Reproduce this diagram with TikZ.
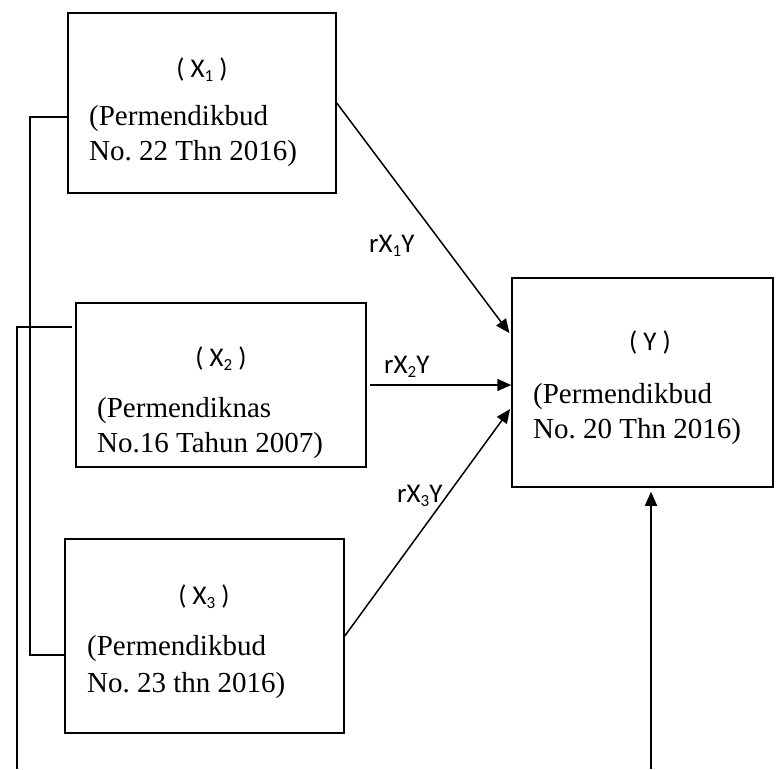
\documentclass[tikz,border=0pt]{standalone}
\usepackage{fontspec}
\setmainfont{Liberation Serif}
\newfontfamily\labfont{Carlito}
\usetikzlibrary{arrows.meta,calc}
\frenchspacing
\newcommand\sbs[1]{\raisebox{-0.15em}{\fontsize{17}{17}\selectfont #1}}
\tikzset{
  box/.style={draw,line width=1.5pt,minimum width=#1,inner sep=0pt},
  ln/.style={line width=1.5pt},
  arr/.style={line width=1.5pt,-{Triangle[length=14pt,width=12pt]}},
  body/.style={anchor=base west,inner sep=0pt,font=\fontsize{29}{35}\selectfont},
  head/.style={inner sep=0pt,font=\labfont\fontsize{27}{30}\selectfont},
  lab/.style={anchor=base west,inner sep=0pt,font=\labfont\fontsize{27}{30}\selectfont},
}
\begin{document}
\begin{tikzpicture}[x=1pt,y=-1pt]
\useasboundingbox (0,0) rectangle (783,769);
% boxes
\node[box=268pt,minimum height=180pt] (X1) at (202,103) {};
\node[box=290pt,minimum height=164pt] (X2) at (221,385) {};
\node[box=279pt,minimum height=194pt] (X3) at (204.5,636) {};
\node[box=261pt,minimum height=209pt] (Y) at (642.5,382.5) {};
% texts
\node[head] (X1h) at (202,70) {( X\sbs{1} )};
\node[body] (X1a) at (89,125) {(Permendikbud};
\node[body] (X1b) at (89,160) {No. 22 Thn 2016)};
\node[head] (X2h) at (221,359) {( X\sbs{2} )};
\node[body] (X2a) at (97,417) {(Permendiknas};
\node[body] (X2b) at (97,452) {No.16 Tahun 2007)};
\node[head] (X3h) at (204,597) {( X\sbs{3} )};
\node[body] (X3a) at (87,655) {(Permendikbud};
\node[body] (X3b) at (87,692) {No. 23 thn 2016)};
\node[head] (Yh) at (650,342) {( Y )};
\node[body] (Ya) at (533,403) {(Permendikbud};
\node[body] (Yb) at (533,438) {No. 20 Thn 2016)};
% labels
\node[lab] (L1) at (369,252) {rX\sbs{1}Y};
\node[lab] (L2) at (384,373) {rX\sbs{2}Y};
\node[lab] (L3) at (397,502) {rX\sbs{3}Y};
% arrows to Y
\draw[arr,shorten >=3pt] (X1.east) -- ([yshift=47pt]Y.west);
\draw[arr,shorten <=3pt] (X2.east) -- (X2.east -| Y.west);
\draw[arr,shorten >=2pt] (X3.east) -- ([yshift=-25pt]Y.west);
\coordinate (bot) at (651,769);
\draw[arr,shorten >=4pt] (bot) -- (bot |- Y.south);
% left connectors
\coordinate (c1) at (30,400);
\draw[ln] ([yshift=-14pt]X1.west) -| (c1) |- ([yshift=-19pt]X3.west);
\coordinate (c2) at (17,769);
\draw[ln] ([xshift=-3pt,yshift=58pt]X2.west) -| (c2);
\end{tikzpicture}
\end{document}
